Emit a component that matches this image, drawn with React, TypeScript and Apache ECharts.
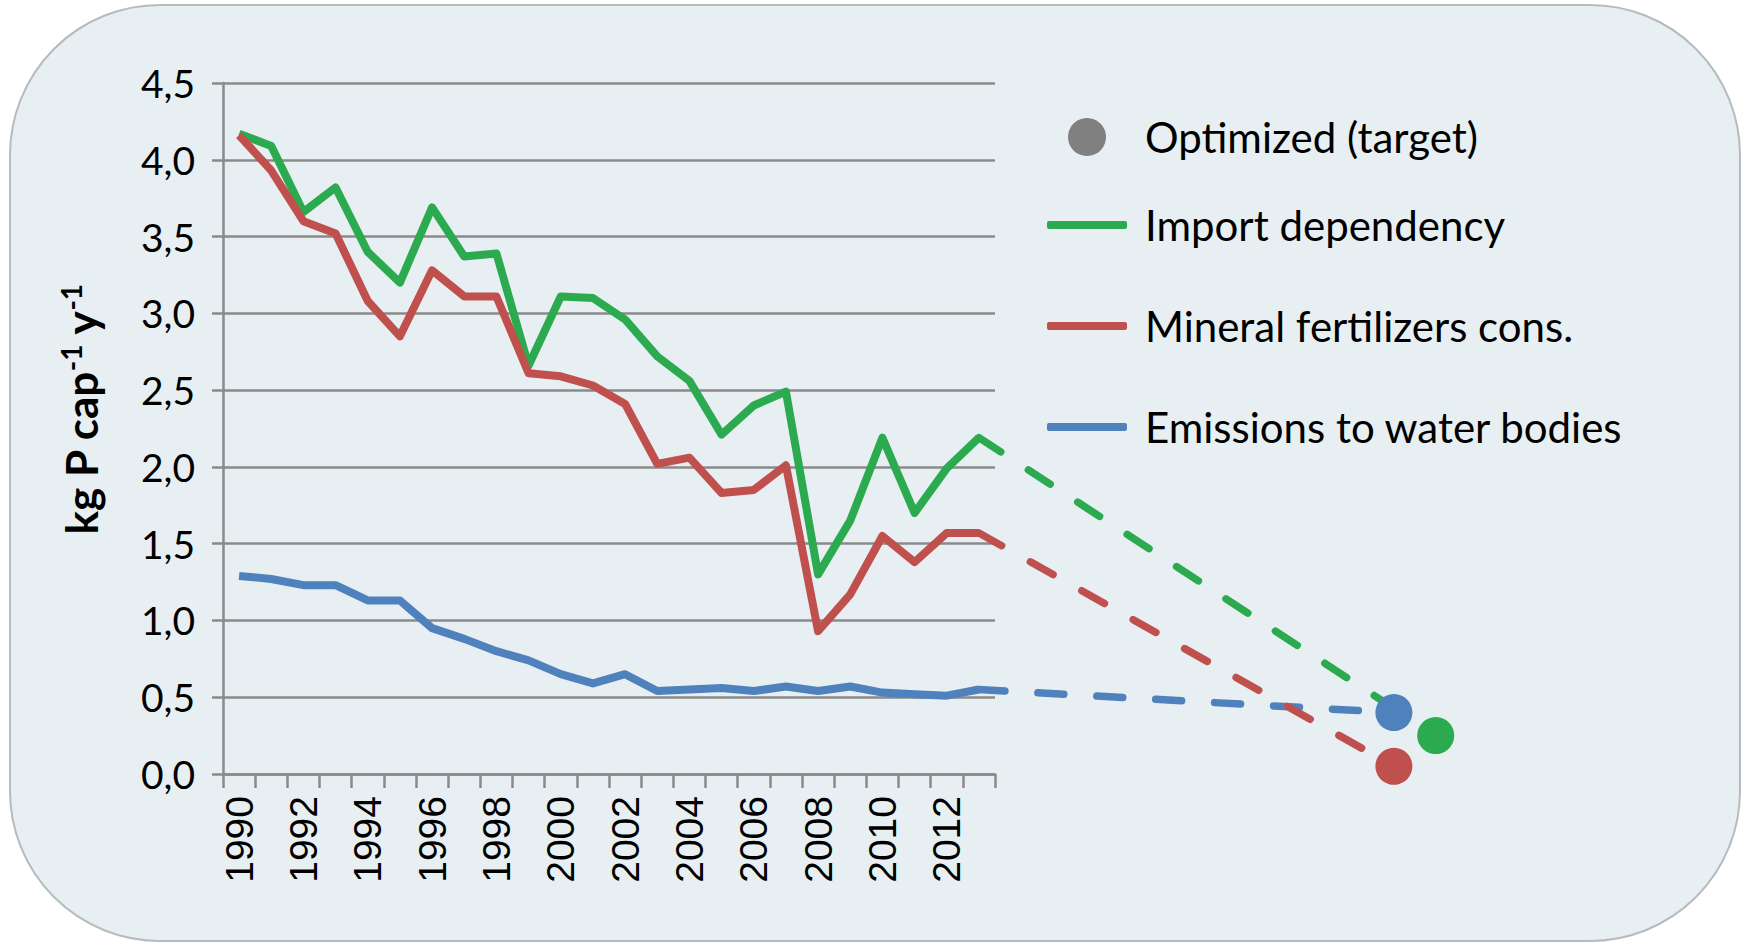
import React, { useEffect, useRef } from "react";
import * as echarts from "echarts";

const years = [
  "1990", "1991", "1992", "1993", "1994", "1995", "1996", "1997", "1998", "1999", "2000", "2001",
  "2002", "2003", "2004", "2005", "2006", "2007", "2008", "2009", "2010", "2011", "2012", "2013",
];
const importDependency = [
  4.17, 4.09, 3.66, 3.82, 3.4, 3.2, 3.69, 3.37, 3.39, 2.66, 3.11, 3.1,
  2.96, 2.72, 2.56, 2.21, 2.4, 2.49, 1.3, 1.65, 2.19, 1.7, 1.99, 2.19,
];
const mineralFertilizers = [
  4.16, 3.93, 3.6, 3.52, 3.08, 2.85, 3.28, 3.11, 3.11, 2.61, 2.59, 2.53,
  2.41, 2.02, 2.06, 1.83, 1.85, 2.01, 0.93, 1.17, 1.55, 1.38, 1.57, 1.57,
];
const emissionsToWater = [
  1.29, 1.27, 1.23, 1.23, 1.13, 1.13, 0.95, 0.88, 0.8, 0.74, 0.65, 0.59,
  0.65, 0.54, 0.55, 0.56, 0.54, 0.57, 0.54, 0.57, 0.53, 0.52, 0.51, 0.55,
];
const seriesNames = ["Import dependency", "Mineral fertilizers cons.", "Emissions to water bodies"];
const targetName = "Optimized (target)";
const targetValues = [0.25, 0.05, 0.4];
const targetPositions = [2027.2, 2025.9, 2025.9];
const yMin = 0;
const yMax = 4.5;
const yStep = 0.5;

const GREEN = "#2BAA50";
const RED = "#C0504D";
const BLUE = "#4F81BD";
const GRAY = "#808080";
const GRID_COLOR = "#8A8A8A";

export default function App() {
  const ref = useRef<HTMLDivElement>(null);

  useEffect(() => {
    if (!ref.current) return;
    const chart = echarts.init(ref.current, undefined, { renderer: "svg" });
    const colors = [GREEN, RED, BLUE];
    const lines = [importDependency, mineralFertilizers, emissionsToWater];
    const lastYear = Number(years[years.length - 1]);

    const solidSeries = [2, 0, 1].map((i) => ({
      name: seriesNames[i],
      type: "line",
      xAxisIndex: 0,
      yAxisIndex: 0,
      data: lines[i],
      color: colors[i],
      symbol: "none",
      lineStyle: { color: colors[i], width: 8, join: "round" },
      itemStyle: { color: colors[i] },
      z: 3,
    }));

    const dashedSeries = [2, 1, 0].map((i) => ({
      name: seriesNames[i] + " trend",
      type: "line",
      xAxisIndex: 1,
      yAxisIndex: 1,
      data: [
        [lastYear, lines[i][lines[i].length - 1]],
        [targetPositions[i], targetValues[i]],
      ],
      symbol: "none",
      lineStyle: { color: colors[i], width: 7.5, type: [26, 33], cap: "round" },
      z: 2,
    }));

    const legendText = {
      fontFamily: "Lato",
      fontSize: 42,
      lineHeight: 48,
      color: "#000",
      padding: [0, 0, 0, 13],
    };

    const option: any = {
      animation: false,
      textStyle: { fontFamily: "Lato" },
      graphic: [
        {
          type: "rect",
          z: -100,
          silent: true,
          shape: { x: 10, y: 5, width: 1730, height: 936, r: 150 },
          style: { fill: "#E7EFF2", stroke: "#B5BBBE", lineWidth: 2 },
        },
      ],
      grid: [
        { left: 223, right: 748, top: 83, bottom: 169, containLabel: false },
        { left: 223, right: 233.3, top: 83, bottom: 169, containLabel: false },
      ],
      xAxis: [
        {
          type: "category",
          gridIndex: 0,
          data: years,
          boundaryGap: true,
          axisLine: { show: true, lineStyle: { color: GRID_COLOR, width: 2.5 } },
          axisTick: { show: true, interval: 0, length: 14, lineStyle: { color: GRID_COLOR, width: 2.5 } },
          axisLabel: {
            interval: 1,
            rotate: 90,
            margin: 22,
            fontFamily: "Liberation Sans",
            fontSize: 39,
            color: "#000",
          },
          splitLine: { show: false },
        },
        {
          type: "value",
          gridIndex: 1,
          min: 1989.5,
          max: 2029.5,
          show: false,
          splitLine: { show: false },
        },
      ],
      yAxis: [
        {
          type: "value",
          gridIndex: 0,
          min: yMin,
          max: yMax,
          interval: yStep,
          name: "{b|kg P cap}{s|-1}{b| y}{s|-1}",
          nameLocation: "middle",
          nameRotate: 90,
          nameGap: 118,
          nameTextStyle: {
            padding: [0, 0, 0, 38],
            rich: {
              b: { fontFamily: "Lato", fontWeight: "bold", fontSize: 44, lineHeight: 48, color: "#000" },
              s: {
                fontFamily: "Lato",
                fontWeight: "bold",
                fontSize: 28,
                lineHeight: 28,
                verticalAlign: "top",
                color: "#000",
              },
            },
          },
          axisLine: { show: true, lineStyle: { color: GRID_COLOR, width: 2.5 } },
          axisTick: { show: true, length: 11, lineStyle: { color: GRID_COLOR, width: 2.5 } },
          axisLabel: {
            margin: 28,
            fontFamily: "Lato",
            fontSize: 39,
            color: "#000",
            formatter: (v: number) => v.toFixed(1).replace(".", ","),
          },
          splitLine: { show: true, lineStyle: { color: GRID_COLOR, width: 2.5 } },
        },
        {
          type: "value",
          gridIndex: 1,
          min: yMin,
          max: yMax,
          show: false,
          splitLine: { show: false },
        },
      ],
      legend: [
        {
          data: [{ name: targetName, icon: "circle", itemStyle: { color: GRAY } }],
          top: 113,
          left: 1068,
          itemHeight: 38,
        },
        {
          data: [{ name: seriesNames[0], icon: "roundRect", itemStyle: { color: GREEN } }],
          top: 201,
          left: 1047,
          itemHeight: 8,
        },
        {
          data: [{ name: seriesNames[1], icon: "roundRect", itemStyle: { color: RED } }],
          top: 302,
          left: 1047,
          itemHeight: 8,
        },
        {
          data: [{ name: seriesNames[2], icon: "roundRect", itemStyle: { color: BLUE } }],
          top: 403,
          left: 1047,
          itemHeight: 8,
        },
      ].map((l) => ({
        ...l,
        padding: 0,
        itemWidth: 80,
        selectedMode: false,
        textStyle: legendText,
      })),
      series: [
        ...dashedSeries,
        ...solidSeries,
        {
          name: targetName,
          type: "scatter",
          xAxisIndex: 1,
          yAxisIndex: 1,
          symbol: "circle",
          symbolSize: 37,
          color: GRAY,
          itemStyle: { color: GRAY, opacity: 1 },
          z: 4,
          data: [2, 1, 0].map((i) => ({
            value: [targetPositions[i], targetValues[i]],
            itemStyle: { color: colors[i], opacity: 1 },
          })),
        },
      ],
    };

    chart.setOption(option);
    return () => chart.dispose();
  }, []);

  return (
    <div
      ref={ref}
      style={{ position: "fixed", left: 0, top: 0, width: 1743, height: 943, background: "#fff" }}
    />
  );
}
